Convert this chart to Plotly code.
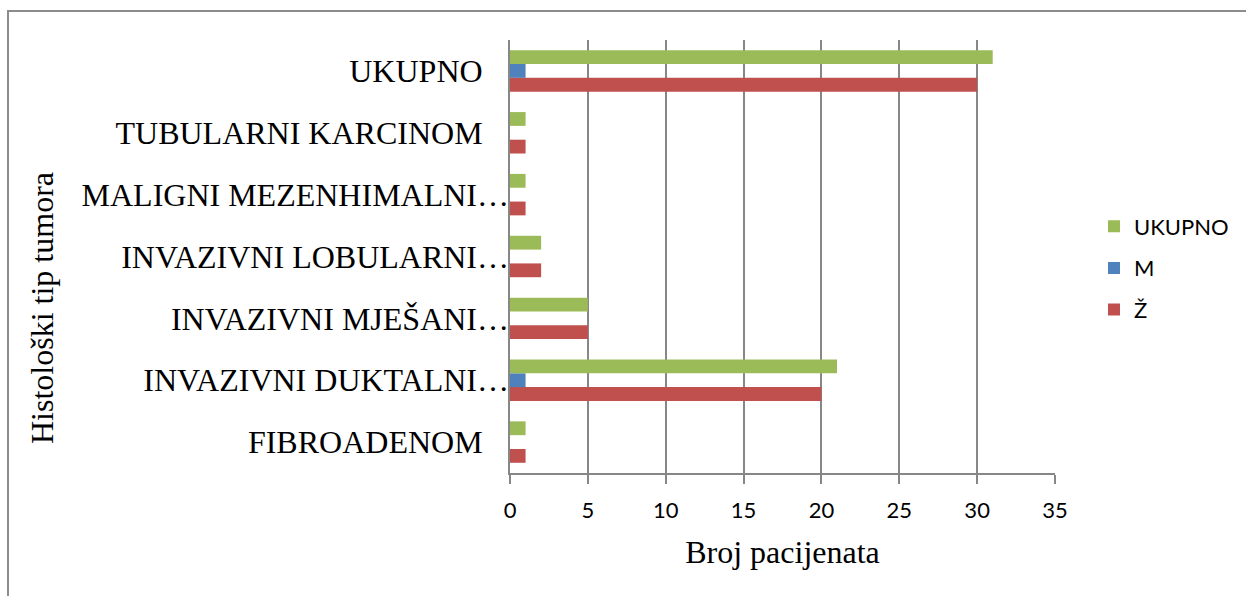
import plotly.graph_objects as go

categories = ["FIBROADENOM", "INVAZIVNI DUKTALNI…", "INVAZIVNI MJEŠANI…",
              "INVAZIVNI LOBULARNI…", "MALIGNI MEZENHIMALNI…", "TUBULARNI KARCINOM", "UKUPNO"]
truncated = ["INVAZIVNI DUKTALNI…", "INVAZIVNI MJEŠANI…",
             "INVAZIVNI LOBULARNI…", "MALIGNI MEZENHIMALNI…"]
full_labels = [c for c in categories if c not in truncated]

zene = [1, 20, 5, 2, 1, 1, 30]
muski = [0, 1, 0, 0, 0, 0, 1]
ukupno = [1, 21, 5, 2, 1, 1, 31]

series_names = ["Ž", "M", "UKUPNO"]
series_colors = ["#C0504D", "#4F81BD", "#9BBB59"]
legend_ranks = [3, 2, 1]
x_ticks = [0, 5, 10, 15, 20, 25, 30, 35]

W, H = 1246, 596
L, R, T, B = 510, 1055, 40, 473
pw, ph = R - L, B - T

def px_x(p):
    return (p - L) / pw

def px_y(p):
    return (B - p) / ph

fig = go.Figure()
for name, vals, col, rank in zip(series_names, [zene, muski, ukupno], series_colors, legend_ranks):
    fig.add_trace(go.Bar(
        y=categories, x=vals, name=name, orientation="h",
        marker=dict(color=col, line=dict(width=0)),
        legendgroup=name, legendrank=rank,
    ))

# invisible helper trace so the second (overlaying) category axis has data
fig.add_trace(go.Scatter(
    y=categories, x=[0] * len(categories), yaxis="y2", mode="markers",
    marker=dict(opacity=0), showlegend=False, hoverinfo="skip",
))

serif = "Liberation Serif, Times New Roman, serif"
sans = "Lato, Open Sans, sans-serif"
gray = "#878787"

fig.update_layout(
    width=W, height=H, autosize=False,
    margin=dict(l=L, r=W - R, t=T, b=H - B, pad=0),
    paper_bgcolor="white", plot_bgcolor="white",
    barmode="group", bargap=0.33, bargroupgap=0,
    font=dict(family=sans, color="black"),
    xaxis=dict(
        range=[0, 35], tickvals=x_ticks, ticks="outside", ticklen=9,
        tickwidth=2, tickcolor=gray, showline=True, linecolor=gray, linewidth=2,
        showgrid=True, gridcolor=gray, gridwidth=2, zeroline=False,
        tickfont=dict(family=sans, size=22, color="black"),
        ticklabelstandoff=8,
        title=dict(text="Broj pacijenata", font=dict(family=serif, size=32, color="black"),
                   standoff=18),
    ),
    yaxis=dict(
        type="category", categoryorder="array", categoryarray=categories,
        tickvals=full_labels, ticktext=full_labels,
        showline=True, linecolor=gray, linewidth=2, ticks="", showgrid=False,
        zeroline=False, ticklabelstandoff=19,
        tickfont=dict(family=serif, size=32, color="black"),
    ),
    yaxis2=dict(
        type="category", categoryorder="array", categoryarray=categories,
        overlaying="y", matches="y", side="left",
        tickvals=truncated, ticktext=truncated,
        showline=False, ticks="", showgrid=False, zeroline=False,
        ticklabelstandoff=0,
        tickfont=dict(family=serif, size=32, color="black"),
    ),
    legend=dict(
        x=px_x(1094), xanchor="left", y=px_y(268), yanchor="middle",
        traceorder="grouped", tracegroupgap=10,
        font=dict(family=sans, size=22, color="black"),
        bgcolor="rgba(0,0,0,0)", itemclick=False,
    ),
    shapes=[dict(
        type="rect", xref="paper", yref="paper",
        x0=px_x(8), x1=px_x(1260), y0=px_y(610), y1=px_y(11),
        line=dict(color="#8C8C8C", width=2), fillcolor="rgba(0,0,0,0)", layer="below",
    )],
    annotations=[dict(
        text="Histološki tip tumora", textangle=-90, showarrow=False,
        xref="paper", yref="paper", x=px_x(42), y=px_y(308),
        xanchor="center", yanchor="middle",
        font=dict(family=serif, size=32, color="black"),
    )],
)

fig.write_html("out.html", config={"displayModeBar": False},
               post_script="document.body.style.margin='0';")
